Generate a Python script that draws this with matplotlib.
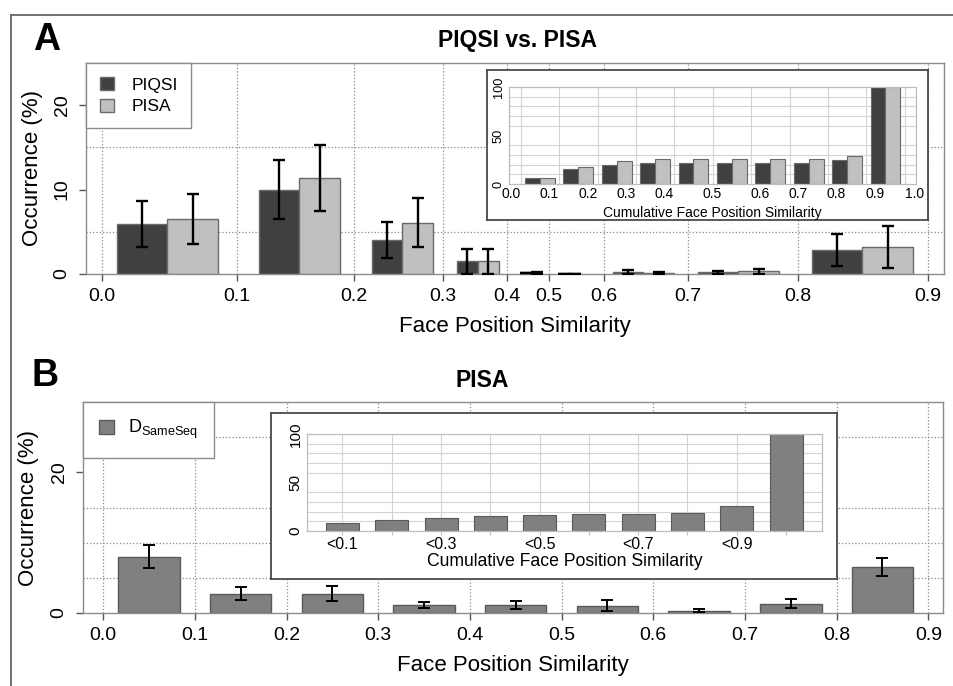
import numpy as np
import matplotlib
matplotlib.use('Agg')
import matplotlib.pyplot as plt
from matplotlib.lines import Line2D
from matplotlib.patches import Patch

plt.rcParams['font.family'] = ['Liberation Sans', 'DejaVu Sans']
plt.rcParams['mathtext.fontset'] = 'custom'
plt.rcParams['mathtext.rm'] = 'Liberation Sans'

W, H = 954, 686

# --- data: occurrence (%) per face position similarity bin ---
sim_labels = ['0.0', '0.1', '0.2', '0.3', '0.4', '0.5', '0.6', '0.7', '0.8', '0.9']
inset_labels = ['0.0', '0.1', '0.2', '0.3', '0.4', '0.5', '0.6', '0.7', '0.8', '0.9', '1.0']

piqsi_occ = [5.9, 10.0, 4.0, 1.5, 0.1, 0.05, 0.2, 0.2, 2.85]
piqsi_err = [2.75, 3.45, 2.15, 1.5, 0.0, 0.0, 0.25, 0.2, 1.9]
pisa_occ = [6.5, 11.4, 6.1, 1.5, 0.15, 0.05, 0.15, 0.3, 3.2]
pisa_err = [3.0, 3.9, 2.9, 1.45, 0.1, 0.0, 0.1, 0.25, 2.45]

piqsi_cum = [5.9, 15.9, 19.9, 21.4, 21.5, 21.6, 21.8, 22.0, 24.9, 100]
pisa_cum = [6.5, 17.9, 24.0, 25.5, 25.6, 25.6, 25.7, 26.0, 29.2, 100]

dsame_occ = [8.0, 2.75, 2.75, 1.15, 1.15, 1.05, 0.35, 1.35, 6.55]
dsame_err = [1.6, 0.9, 1.1, 0.45, 0.55, 0.8, 0.2, 0.6, 1.25]
dsame_cum = [8.4, 11.0, 13.8, 15.2, 16.2, 17.2, 17.6, 19.0, 25.9, 100]
cum_labels_b = ['<0.1', '', '<0.3', '', '<0.5', '', '<0.7', '', '<0.9', '']

# --- layout of the stretched axis in panel A (axis units) ---
a_tick_pos = [16, 151, 268, 357, 421, 463, 518, 602, 712, 842]
a_group_left = [31, 173, 286, 371, 435, 473, 527, 612, 726]
a_bar_w = [50.5, 40.5, 30.5, 21, 10.5, 10.5, 30.5, 40.5, 50.5]
inset_a_label_pos = [-0.26, 0.73, 1.74, 2.74, 3.74, 4.99, 6.22, 7.21, 8.22, 9.22, 10.26]

C_PIQSI = '#404040'
C_PISA = '#c0c0c0'
C_SAME = '#808080'
EDGE = '#6a6a6a'
FRAME = '#8c8c8c'


def px_axes(fig, l, t, r, b, **kw):
    return fig.add_axes([l / W, 1 - b / H, (r - l) / W, (b - t) / H], **kw)


def style_main(ax):
    for s in ax.spines.values():
        s.set_color(FRAME)
        s.set_linewidth(1.0)
    ax.tick_params(colors='#555555', labelcolor='black', labelsize=14, length=5, width=1)
    ax.tick_params(axis='x', pad=5)
    ax.tick_params(axis='y', pad=6)
    ax.set_axisbelow(True)
    ax.grid(True, which='major', axis='x', linestyle=':', color='#8a8a8a', linewidth=0.9)
    ax.grid(True, which='minor', axis='y', linestyle=':', color='#8a8a8a', linewidth=0.9)


def style_inset(ax, tick_size):
    for s in ax.spines.values():
        s.set_color('#bdbdbd')
        s.set_linewidth(0.9)
    ax.set_axisbelow(True)
    ax.set_ylim(0, 100)
    ax.set_yticks([0, 50, 100])
    ax.set_yticks(np.arange(0, 101, 10), minor=True)
    ax.grid(True, which='minor', axis='y', color='#d4d4d4', linewidth=0.8)
    ax.grid(True, which='major', axis='x', color='#d4d4d4', linewidth=0.8)
    ax.tick_params(axis='y', which='both', length=0, pad=3, labelsize=tick_size)
    for lbl in ax.get_yticklabels():
        lbl.set_rotation(90)
        lbl.set_va('center')


def inset_box(fig, l, t, r, b):
    box = px_axes(fig, l, t, r, b)
    box.set_xticks([])
    box.set_yticks([])
    box.set_facecolor('white')
    for s in box.spines.values():
        s.set_color('#4a4a4a')
        s.set_linewidth(1.3)
    return box


fig = plt.figure(figsize=(W / 100, H / 100), dpi=100)

# outer frame
fig.add_artist(Line2D([11 / W, 11 / W], [0, 1 - 15 / H], transform=fig.transFigure,
                      color='#666666', lw=1.3))
fig.add_artist(Line2D([11 / W, 1], [1 - 15 / H, 1 - 15 / H], transform=fig.transFigure,
                      color='#666666', lw=1.3))

# ---------------- Panel A ----------------
axA = px_axes(fig, 86, 63, 944, 274)
style_main(axA)
axA.set_xlim(0, 858)
axA.set_ylim(0, 25)
axA.set_xticks(a_tick_pos)
axA.set_xticklabels(sim_labels)
axA.set_yticks([0, 10, 20])
axA.set_yticks([5, 10, 15, 20], minor=True)
axA.tick_params(axis='y', which='minor', length=0)
for lbl in axA.get_yticklabels():
    lbl.set_rotation(90)
    lbl.set_va('center')

left = np.array(a_group_left, dtype=float)
bw = np.array(a_bar_w)
x_piqsi = left + bw / 2
x_pisa = left + bw * 1.5
axA.bar(x_piqsi, piqsi_occ, width=bw, color=C_PIQSI, edgecolor=EDGE, linewidth=1.0, zorder=2)
axA.bar(x_pisa, pisa_occ, width=bw, color=C_PISA, edgecolor=EDGE, linewidth=1.0, zorder=2)
axA.errorbar(x_piqsi, piqsi_occ, yerr=piqsi_err, fmt='none', ecolor='black',
             elinewidth=1.7, capsize=4, capthick=1.7, zorder=3)
axA.errorbar(x_pisa, pisa_occ, yerr=pisa_err, fmt='none', ecolor='black',
             elinewidth=1.7, capsize=4, capthick=1.7, zorder=3)
axA.set_xlabel('Face Position Similarity', fontsize=16, labelpad=8)
axA.set_ylabel('Occurrence (%)', fontsize=16)
axA.yaxis.set_label_coords(-43 / 858, 0.5)

legA = axA.legend(handles=[Patch(facecolor=C_PIQSI, edgecolor=EDGE),
                           Patch(facecolor=C_PISA, edgecolor=EDGE)],
                  labels=['PIQSI', 'PISA'], loc='upper left', bbox_to_anchor=(0, 1),
                  borderaxespad=0, fancybox=False, framealpha=1, edgecolor=FRAME,
                  fontsize=12.5, handlelength=0.8, handleheight=0.8, handletextpad=1.0,
                  borderpad=0.8, labelspacing=0.35)
legA.get_frame().set_linewidth(1.0)
legA.set_zorder(5)

fig.text(47 / W, 1 - 40 / H, 'A', ha='center', va='center', fontsize=27, weight='bold')
fig.text(518 / W, 1 - 40 / H, 'PIQSI vs. PISA', ha='center', va='center',
         fontsize=16.5, weight='bold')

# inset A: cumulative distribution
inset_box(fig, 487, 70, 928, 220)
insA = px_axes(fig, 509, 87, 916, 184)
style_inset(insA, 9.2)
insA.set_xlim(-0.31, 10.29)
insA.set_xticks(np.arange(0, 11))
insA.set_xticklabels([])
insA.tick_params(axis='x', length=0)
idx = np.arange(len(piqsi_cum))
insA.bar(idx + 0.3, piqsi_cum, width=0.39, color=C_PIQSI, edgecolor=EDGE, linewidth=0.8, zorder=2)
insA.bar(idx + 0.69, pisa_cum, width=0.39, color=C_PISA, edgecolor=EDGE, linewidth=0.8, zorder=2)
for pos, lab in zip(inset_a_label_pos, inset_labels):
    insA.text(pos, -0.03, lab, transform=insA.get_xaxis_transform(), ha='center', va='top',
              fontsize=10)
insA.set_xlabel('Cumulative Face Position Similarity', fontsize=10, labelpad=12)

# ---------------- Panel B ----------------
axB = px_axes(fig, 83, 402, 943, 613)
style_main(axB)
axB.set_xlim(-0.022, 0.916)
axB.set_ylim(0, 30)
axB.set_xticks(np.arange(10) / 10)
axB.set_xticklabels(sim_labels)
axB.set_yticks([0, 20])
axB.set_yticks([5, 10, 15, 20, 25], minor=True)
axB.tick_params(axis='y', which='minor', length=0)
for lbl in axB.get_yticklabels():
    lbl.set_rotation(90)
    lbl.set_va('center')

xb = np.arange(len(dsame_occ)) / 10 + 0.05
axB.bar(xb, dsame_occ, width=0.067, color=C_SAME, edgecolor='#5a5a5a', linewidth=1.0, zorder=2)
axB.errorbar(xb, dsame_occ, yerr=dsame_err, fmt='none', ecolor='black',
             elinewidth=1.4, capsize=4.5, capthick=1.4, zorder=3)
axB.set_xlabel('Face Position Similarity', fontsize=16, labelpad=8)
axB.set_ylabel('Occurrence (%)', fontsize=16)
axB.yaxis.set_label_coords(-44 / 860, 0.5)

legB = axB.legend(handles=[Patch(facecolor=C_SAME, edgecolor='#5a5a5a')],
                  labels=[r'D$_{\mathrm{SameSeq}}$'], loc='upper left', bbox_to_anchor=(0, 1),
                  borderaxespad=0, fancybox=False, framealpha=1, edgecolor=FRAME,
                  fontsize=13, handlelength=0.8, handleheight=0.8, handletextpad=0.8,
                  borderpad=0.9)
legB.get_frame().set_linewidth(1.0)
legB.set_zorder(5)

fig.text(45 / W, 1 - 376 / H, 'B', ha='center', va='center', fontsize=27, weight='bold')
fig.text(482 / W, 1 - 380 / H, 'PISA', ha='center', va='center', fontsize=16.5, weight='bold')

# inset B: cumulative distribution
inset_box(fig, 271, 413, 837, 579)
insB = px_axes(fig, 307, 434, 822, 531)
style_inset(insB, 11)
ib = np.arange(len(dsame_cum))
insB.set_xlim(-0.72, 9.73)
insB.set_xticks(ib)
insB.set_xticklabels(cum_labels_b)
insB.tick_params(axis='x', length=3, color='#bdbdbd', labelsize=11.5, pad=1)
insB.bar(ib, dsame_cum, width=0.67, color=C_SAME, edgecolor='#5a5a5a', linewidth=0.8, zorder=2)
insB.set_xlabel('Cumulative Face Position Similarity', fontsize=12.7, labelpad=1)

fig.savefig('out.png', dpi=100)
